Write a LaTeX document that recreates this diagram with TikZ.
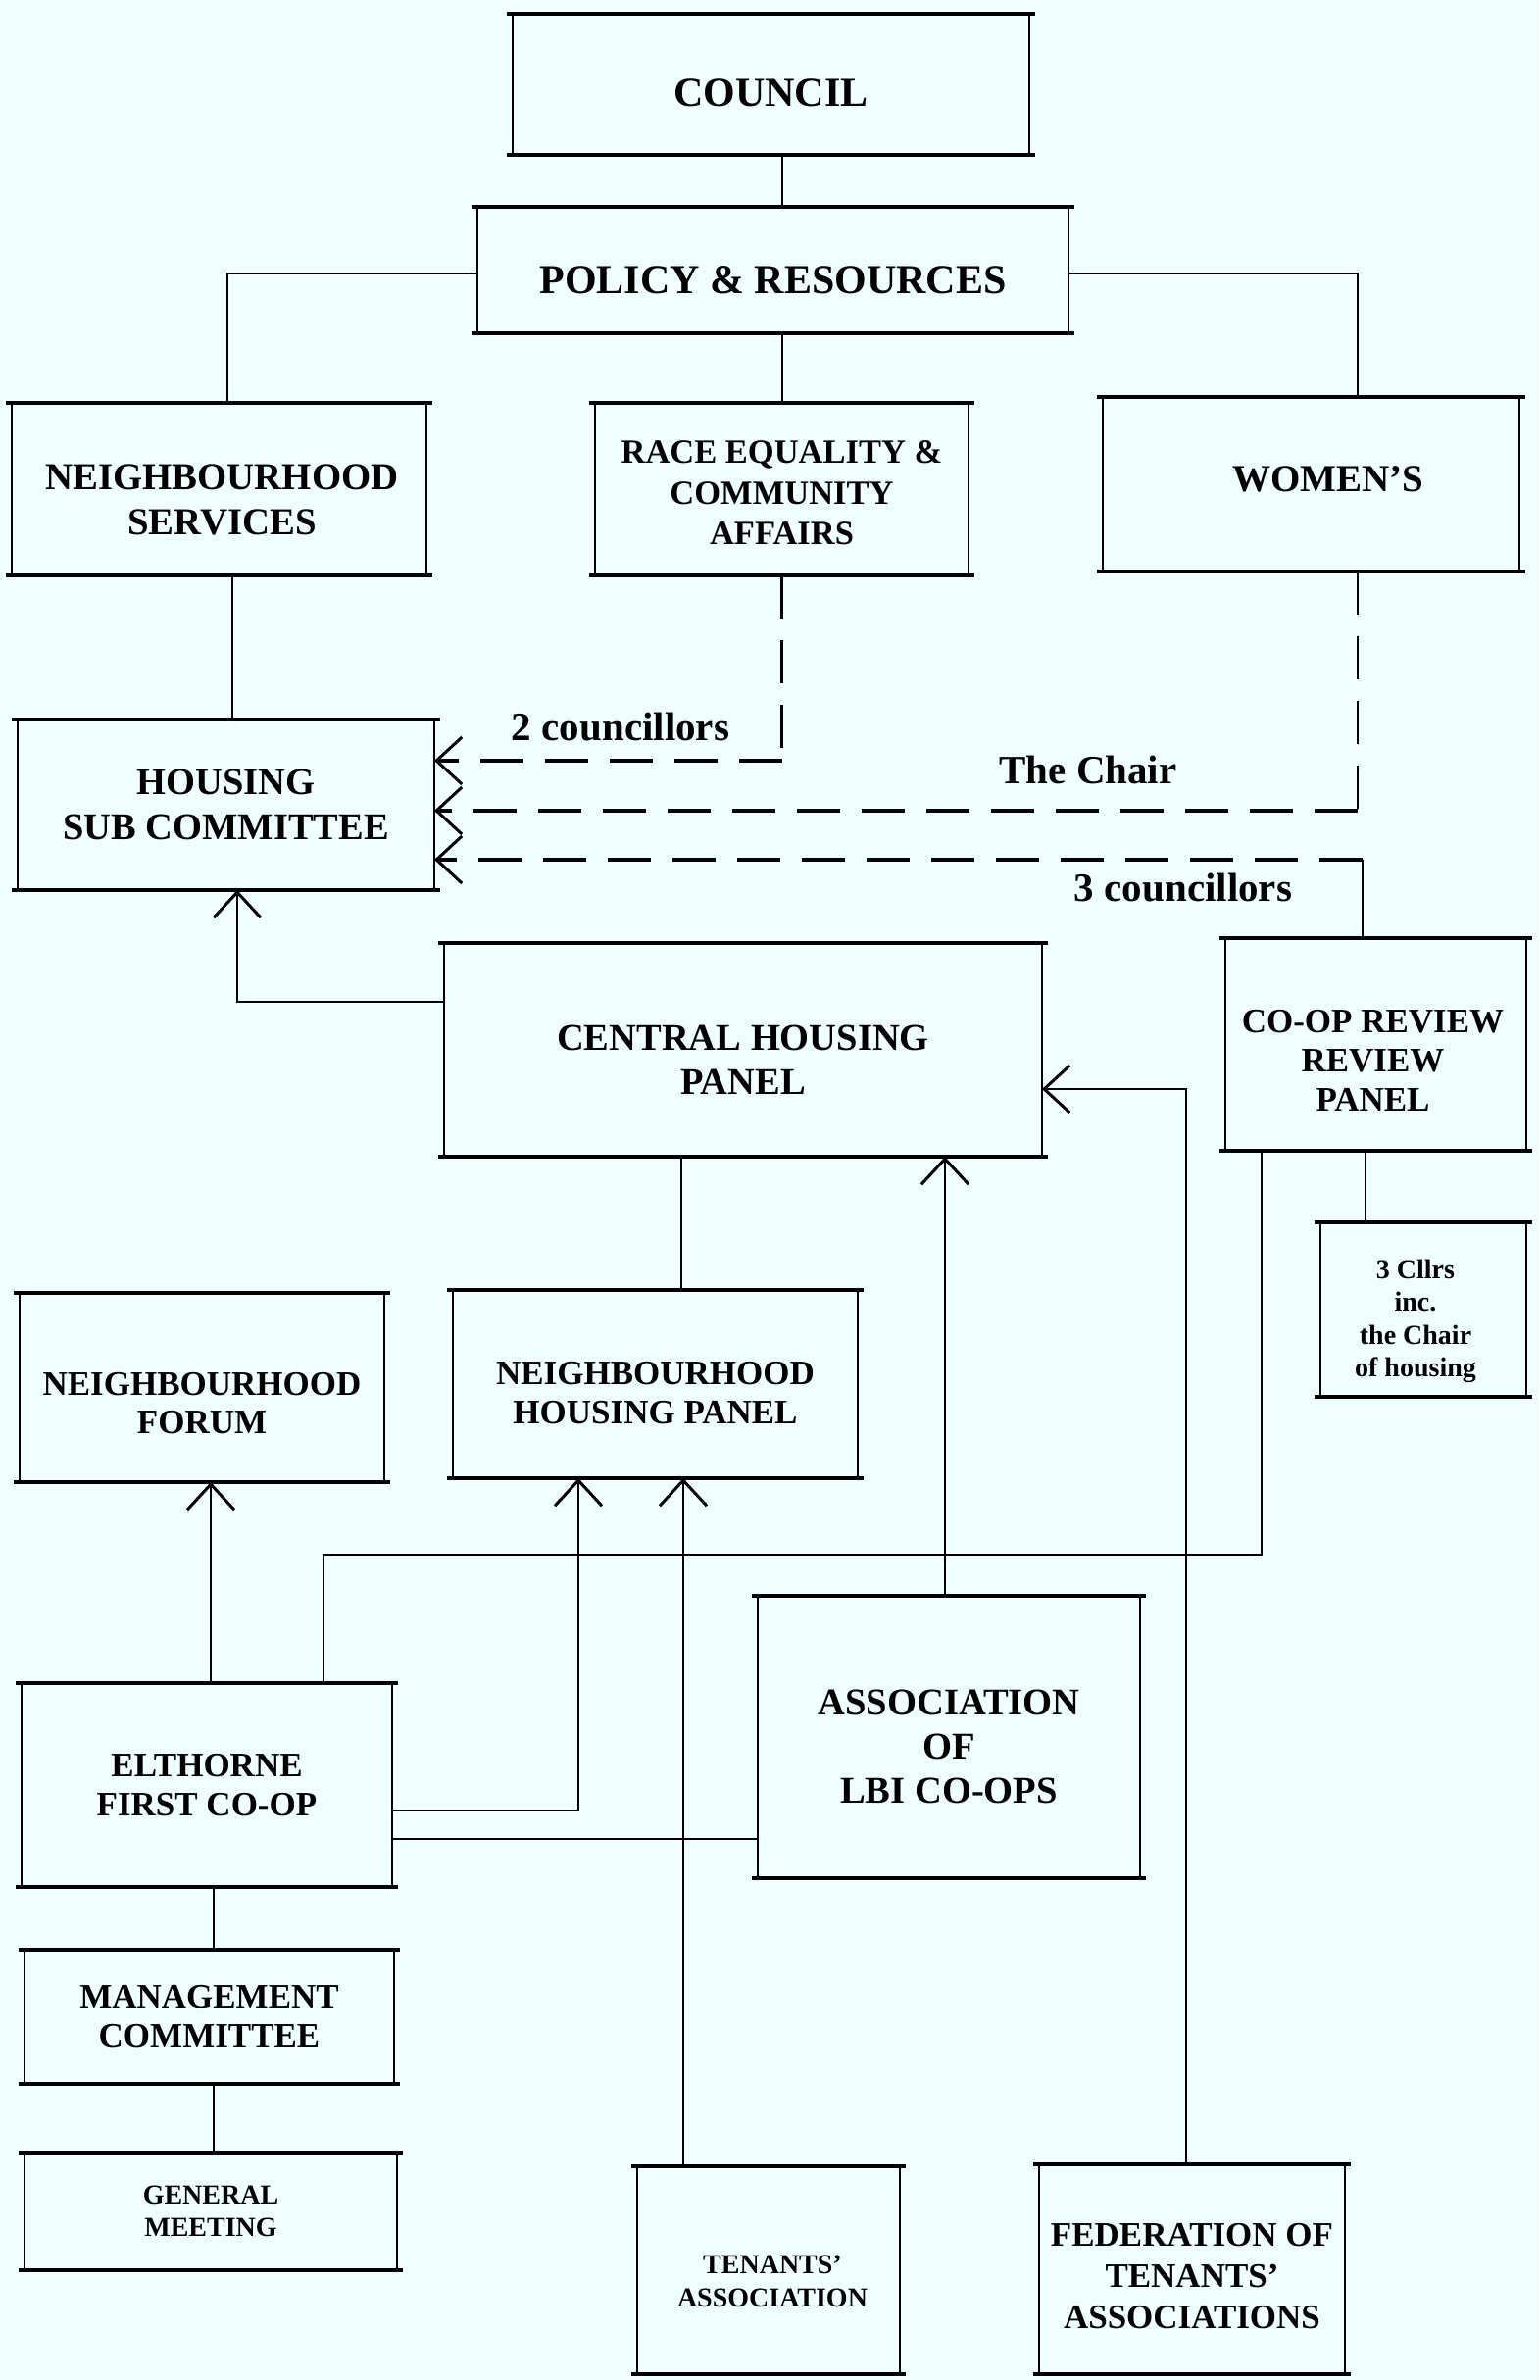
\documentclass[tikz,border=0pt]{standalone}
\usepackage{fontspec}
\setmainfont{Liberation Serif}
\usetikzlibrary{arrows.meta}
\definecolor{bgcol}{RGB}{240,255,255}
\newcommand\fsz[2]{\fontsize{#1}{#2}\selectfont\bfseries}
\tikzset{
  thickedge/.style={draw, line width=2pt, shorten <=-3pt, shorten >=-3pt},
  box/.style={draw, line width=1pt, outer sep=0pt, inner sep=0pt,
    append after command={
      (\tikzlastnode.north west) edge[thickedge] (\tikzlastnode.north east)
      (\tikzlastnode.south west) edge[thickedge] (\tikzlastnode.south east)}},
  tx/.style={inner sep=0pt, align=center},
  conn/.style={line width=1pt},
  dashline/.style={line width=2pt, dash pattern=on 22pt off 11pt},
  vdash/.style={line width=1.25pt, dash pattern=on 22pt off 11pt},
  arr/.style={-{Straight Barb[length=13pt,width=24pt,line width=1.5pt]}},
  lbl/.style={font=\fsz{20.5}{24}}
}
\begin{document}
\begin{tikzpicture}[x=0.5pt,y=-0.5pt]
\fill[bgcol] (0,0) rectangle (1570,2428);
\useasboundingbox (0,0) rectangle (1570,2428);

% boxes
\node[box, minimum width=263.5pt, minimum height=72pt] (council) at (786.5,86) {};
\node[box, minimum width=301.5pt, minimum height=64.5pt] (pr) at (788.5,275.5) {};
\node[box, minimum width=211.5pt, minimum height=88pt] (ns) at (223.5,499) {};
\node[box, minimum width=190.5pt, minimum height=88pt] (race) at (797.5,499) {};
\node[box, minimum width=212.5pt, minimum height=89pt] (women) at (1337.5,494) {};
\node[box, minimum width=212.5pt, minimum height=87pt] (hsc) at (230.5,821) {};
\node[box, minimum width=305pt, minimum height=109pt] (chp) at (758,1071) {};
\node[box, minimum width=153.5pt, minimum height=108.5pt] (crp) at (1403.5,1065.5) {};
\node[box, minimum width=105pt, minimum height=89pt] (cllrs) at (1452,1336) {};
\node[box, minimum width=186pt, minimum height=96.5pt] (nf) at (206,1415.5) {};
\node[box, minimum width=206.5pt, minimum height=96pt] (nhp) at (668.5,1412) {};
\node[box, minimum width=189pt, minimum height=104pt] (elth) at (211,1821) {};
\node[box, minimum width=195pt, minimum height=144pt] (alc) at (968,1772) {};
\node[box, minimum width=188.5pt, minimum height=68.5pt] (mc) at (213.5,2057.5) {};
\node[box, minimum width=190pt, minimum height=60pt] (gm) at (215,2256) {};
\node[box, minimum width=134pt, minimum height=106pt] (ta) at (784,2316) {};
\node[box, minimum width=156pt, minimum height=107pt] (fta) at (1216,2315) {};

% box texts
\node[tx, font=\fsz{21}{25}] (councilT) at ([yshift=-4.5pt]council) {COUNCIL};
\node[tx, font=\fsz{21}{25}] (prT) at ([yshift=-5pt]pr) {POLICY \& RESOURCES};
\node[tx, font=\fsz{19.4}{23.3}] (nsT) at ([xshift=1.5pt,yshift=-5.5pt]ns) {NEIGHBOURHOOD\\SERVICES};
\node[tx, font=\fsz{17.25}{20.75}] (raceT) at ([yshift=-2pt]race) {RACE EQUALITY \&\\COMMUNITY\\AFFAIRS};
\node[tx, font=\fsz{19.5}{23}] (womenT) at ([xshift=8.5pt,yshift=2.5pt]women) {WOMEN’S};
\node[tx, font=\fsz{19.25}{22.75}] (hscT) at (hsc) {HOUSING\\SUB COMMITTEE};
\node[tx, font=\fsz{19.25}{22.3}] (chpT) at ([yshift=-5pt]chp) {CENTRAL HOUSING\\PANEL};
\node[tx, font=\fsz{17.5}{20}] (crpT) at ([xshift=-1.5pt,yshift=-8pt]crp) {CO-OP REVIEW\\REVIEW\\PANEL};
\node[tx, font=\fsz{14}{16.75}] (cllrsT) at ([xshift=-4pt,yshift=-6pt]cllrs) {3 Cllrs\\inc.\\the Chair\\of housing};
\node[tx, font=\fsz{17.5}{19.5}] (nfT) at ([yshift=-8pt]nf) {NEIGHBOURHOOD\\FORUM};
\node[tx, font=\fsz{17.5}{20}] (nhpT) at ([yshift=-4.5pt]nhp) {NEIGHBOURHOOD\\HOUSING PANEL};
\node[tx, font=\fsz{17.5}{20}] (elthT) at (elth) {ELTHORNE\\FIRST CO-OP};
\node[tx, font=\fsz{19.3}{22.5}] (alcT) at ([yshift=-5pt]alc) {ASSOCIATION\\OF\\LBI CO-OPS};
\node[tx, font=\fsz{17.5}{20}] (mcT) at (mc) {MANAGEMENT\\COMMITTEE};
\node[tx, font=\fsz{14}{16.4}] (gmT) at (gm) {GENERAL\\MEETING};
\node[tx, font=\fsz{14}{16.8}] (taT) at ([xshift=2pt,yshift=-5.5pt]ta) {TENANTS’\\ASSOCIATION};
\node[tx, font=\fsz{17.5}{21}] (ftaT) at ([yshift=-3.5pt]fta) {FEDERATION OF\\TENANTS’\\ASSOCIATIONS};

% labels
\node[lbl] (lbltwo) at (633,742) {2 councillors};
\node[lbl] (lblchair) at (1110,785) {The Chair};
\node[lbl] (lblthree) at (1207,906) {3 councillors};

% connectors
\path ([xshift=5.75pt]council.south) coordinate (a1);
\draw[conn] (a1) -- (a1 |- pr.north);

\path ([xshift=4pt]ns.north) coordinate (b1);
\path ([yshift=-1.75pt]pr.west) coordinate (b0);
\draw[conn] (b0) -| (b1);

\path ([xshift=23.75pt]women.north) coordinate (c1);
\path ([yshift=-1.75pt]pr.east) coordinate (c0);
\draw[conn] (c0) -| (c1);

\draw[conn] (race.north |- pr.south) -- (race.north);

\path ([xshift=6.75pt]ns.south) coordinate (e0);
\draw[conn] (e0) -- (e0 |- hsc.north);

\path ([yshift=22.5pt]hsc.east) coordinate (f1);
\draw[vdash] (race.south) -- (race.south |- f1);
\draw[dashline, arr] (race.south |- f1) -- (f1);

\path ([yshift=-3pt]hsc.east) coordinate (g1);
\path ([xshift=23.75pt]women.south) coordinate (g0);
\draw[vdash] (g0) -- (g0 |- g1);
\draw[dashline, arr] (g0 |- g1) -- (g1);

\path ([xshift=-6.75pt]crp.north) coordinate (h0);
\path ([yshift=-28pt]hsc.east) coordinate (h2);
\draw[line width=1.25pt] (h0) -- (h0 |- h2);
\draw[dashline, arr] (h0 |- h2) -- (h2);

\path ([yshift=24.5pt]chp.west) coordinate (i0);
\path ([xshift=5.75pt]hsc.south) coordinate (i1);
\draw[conn, arr] (i0) -| (i1);

\path ([xshift=13.25pt]nhp.north) coordinate (j1);
\draw[conn] (j1 |- chp.south) -- (j1);

\path ([xshift=-2pt]alc.north) coordinate (k0);
\draw[conn, arr] (k0) -- (k0 |- chp.south);

\path ([xshift=-3pt]fta.north) coordinate (l0);
\path ([yshift=-20pt]chp.east) coordinate (l1);
\draw[conn, arr] (l0) |- (l1);

\path ([xshift=-58.25pt]crp.south) coordinate (m0);
\path ([xshift=59.5pt]elth.north) coordinate (m2);
\coordinate (m1) at (0,1586);
\draw[conn] (m0) -- (m0 |- m1) -- (m2 |- m1) -- (m2);

\path ([xshift=-29.5pt]cllrs.north) coordinate (n1);
\draw[conn] (n1 |- crp.south) -- (n1);

\path ([xshift=2pt]elth.north) coordinate (o0);
\draw[conn, arr] (o0) -- (o0 |- nf.south);

\path ([yshift=-13pt]elth.east) coordinate (p0);
\path ([xshift=-39.25pt]nhp.south) coordinate (p1);
\draw[conn, arr] (p0) -| (p1);

\path ([xshift=14.25pt]nhp.south) coordinate (q1);
\draw[conn, arr] (q1 |- ta.north) -- (q1);

\path ([yshift=-27.5pt]elth.east) coordinate (r0);
\draw[conn] (r0) -- (r0 -| alc.west);

\path ([xshift=3.5pt]elth.south) coordinate (s0);
\draw[conn] (s0) -- (s0 |- mc.north);
\path ([xshift=2.25pt]mc.south) coordinate (t0);
\draw[conn] (t0) -- (t0 |- gm.north);
\end{tikzpicture}
\end{document}
